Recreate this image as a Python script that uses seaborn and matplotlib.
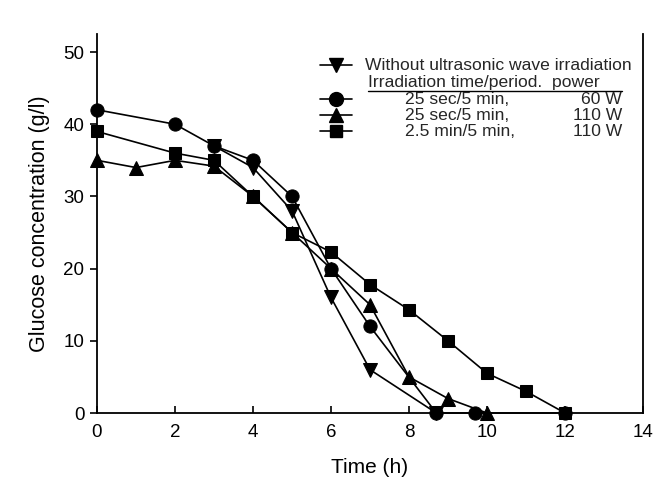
import matplotlib
matplotlib.use("Agg")
import matplotlib.pyplot as plt
import seaborn as sns
import pandas as pd
from matplotlib.lines import Line2D

# ---- data ----
t_none = [3, 4, 5, 6, 7, 8.7]
g_none = [37, 34, 28, 16, 6, 0]

t_60w = [0, 2, 3, 4, 5, 6, 7, 8.7, 9.7, 12]
g_60w = [42, 40, 37, 35, 30, 20, 12, 0, 0, 0]

t_110w = [0, 1, 2, 3, 4, 5, 6, 7, 8, 9, 10]
g_110w = [35, 34, 35, 34.2, 30, 25, 20, 15, 5, 2, 0]

t_25min = [0, 2, 3, 4, 5, 6, 7, 8, 9, 10, 11, 12]
g_25min = [39, 36, 35, 30, 25, 22.3, 17.8, 14.3, 10, 5.5, 3, 0]

series = [
    ("none", t_none, g_none, "v", 9.5),
    ("110w", t_110w, g_110w, "^", 9.5),
    ("2.5min", t_25min, g_25min, "s", 8.5),
    ("60w", t_60w, g_60w, "o", 9.5),
]

x_ticks = [0, 2, 4, 6, 8, 10, 12, 14]
y_ticks = [0, 10, 20, 30, 40, 50]

legend_first = ["Without ultrasonic wave irradiation", "Irradiation time/period.  power",
                "25 sec/5 min,", "25 sec/5 min,", "2.5 min/5 min,"]
legend_second = ["", "", "60 W", "110 W", "110 W"]

# ---- style ----
sns.set_theme(style="ticks")
plt.rcParams["font.family"] = ["Liberation Sans", "DejaVu Sans"]

W, H = 672, 498
fig = plt.figure(figsize=(W / 100, H / 100), dpi=100)
ax = fig.add_axes([97 / W, 1 - 413 / H, (643 - 97) / W, (413 - 34) / H])

for name, t, g, m, ms in series:
    df = pd.DataFrame({"t": t, "g": g})
    sns.lineplot(data=df, x="t", y="g", ax=ax, color="black", linewidth=1.2,
                 marker=m, markersize=ms, markeredgecolor="black",
                 markerfacecolor="black", sort=False, estimator=None, clip_on=False)

ax.set_xlim(0, 14)
ax.set_ylim(0, 52.5)
ax.set_xticks(x_ticks)
ax.set_yticks(y_ticks)
ax.set_xticklabels([str(v) for v in x_ticks])
ax.set_yticklabels([str(v) for v in y_ticks])
ax.tick_params(axis="y", direction="out", length=5, width=1.2, labelsize=13.5, colors="black", pad=4)
ax.tick_params(axis="x", direction="in", length=5, width=1.2, labelsize=13.5, colors="black", pad=8)
ax.spines["top"].set_visible(False)
for s in ["left", "bottom", "right"]:
    ax.spines[s].set_linewidth(1.3)
    ax.spines[s].set_color("black")

ax.set_xlabel("Time (h)", fontsize=15, color="black", labelpad=12)
ax.set_ylabel("Glucose concentration (g/l)", fontsize=15.5, color="black", labelpad=10)


def fx(x):
    return x / W


def fy(y):
    return 1 - y / H


# ---- legend (manual) ----
rows_y = [65, 82, 99, 115, 131]
handle_markers = ["v", None, "o", "^", "s"]
handle_ms = [10, 0, 10, 10, 8.5]
for i, (y, m) in enumerate(zip(rows_y, handle_markers)):
    if m is not None:
        fig.add_artist(Line2D([fx(320), fx(352)], [fy(y), fy(y)], color="black", lw=1.2,
                              transform=fig.transFigure))
        fig.add_artist(Line2D([fx(336)], [fy(y)], marker=m, markersize=handle_ms[i],
                              color="black", transform=fig.transFigure))

fs = 12.6
fig.text(fx(365), fy(rows_y[0]), legend_first[0], fontsize=fs, va="center", ha="left")
fig.text(fx(368), fy(rows_y[1]), legend_first[1], fontsize=fs, va="center", ha="left")
fig.add_artist(Line2D([fx(368), fx(622)], [fy(91), fy(91)], color="black", lw=1.0,
                      transform=fig.transFigure))
for i in range(2, 5):
    fig.text(fx(405), fy(rows_y[i]), legend_first[i], fontsize=fs, va="center", ha="left")
    fig.text(fx(622), fy(rows_y[i]), legend_second[i], fontsize=fs, va="center", ha="right")

fig.savefig("out.png", dpi=100)
